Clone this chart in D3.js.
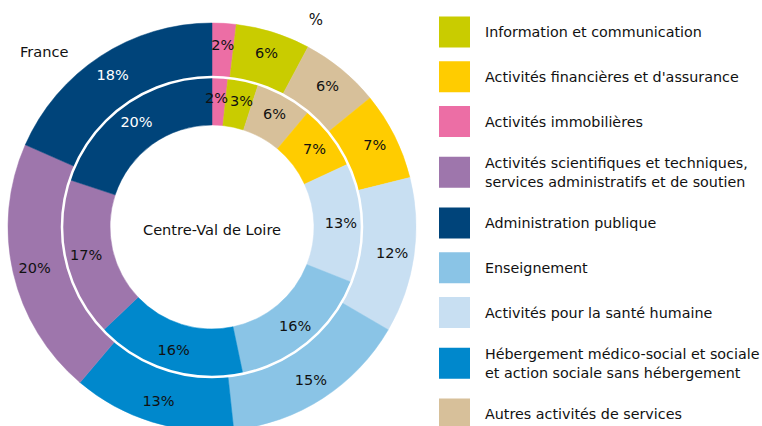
<!DOCTYPE html>
<html>
<head>
<meta charset="utf-8">
<script src="https://cdn.jsdelivr.net/npm/d3@7"></script>
<style>
  html, body { margin: 0; padding: 0; background: #fff; }
  svg { display: block; font-family: "DejaVu Sans", sans-serif; }
</style>
</head>
<body>
<svg id="chart" width="762" height="426"></svg>
<script>
// Categories in drawing order (clockwise from 12 o'clock)
const categories = [
  "Activités immobilières",
  "Information et communication",
  "Autres activités de services",
  "Activités financières et d'assurance",
  "Activités pour la santé humaine",
  "Enseignement",
  "Hébergement médico-social et sociale et action sociale sans hébergement",
  "Activités scientifiques et techniques, services administratifs et de soutien",
  "Administration publique"
];
// Shares (%) — France (outer ring)
const franceValues = [1.9, 5.9, 6.3, 7.0, 12.3, 14.9, 12.9, 20.4, 18.4];
// Shares (%) — Centre-Val de Loire (inner ring)
const cvlValues = [1.7, 3.3, 6.1, 7.0, 12.9, 15.7, 16.2, 17.2, 19.9];
const colors = ["#EC6EA5", "#C9CC00", "#D7C09A", "#FFCC00", "#C8DFF2", "#8AC4E6", "#0088CC", "#9E76AC", "#00447A"];

// Legend order and text lines
const legendOrder = [
  "Information et communication",
  "Activités financières et d'assurance",
  "Activités immobilières",
  "Activités scientifiques et techniques, services administratifs et de soutien",
  "Administration publique",
  "Enseignement",
  "Activités pour la santé humaine",
  "Hébergement médico-social et sociale et action sociale sans hébergement",
  "Autres activités de services"
];
const legendLines = [
  ["Information et communication"],
  ["Activités financières et d'assurance"],
  ["Activités immobilières"],
  ["Activités scientifiques et techniques,", "services administratifs et de soutien"],
  ["Administration publique"],
  ["Enseignement"],
  ["Activités pour la santé humaine"],
  ["Hébergement médico-social et sociale", "et action sociale sans hébergement"],
  ["Autres activités de services"]
];
const ringLabels = { outer: "France", inner: "Centre-Val de Loire", unit: "%" };

const svg = d3.select("#chart");
const cx = 212, cy = 227;
const g = svg.append("g").attr("transform", `translate(${cx},${cy})`);
const color = d3.scaleOrdinal().domain(categories).range(colors);

const pie = d3.pie().sort(null).value(d => d.value);
const mk = vals => pie(categories.map((c, i) => ({ cat: c, value: vals[i] })));

const rings = [
  { data: mk(franceValues), r0: 150, r1: 204, lr: 182 },
  { data: mk(cvlValues), r0: 102, r1: 150, lr: 129 }
];

rings.forEach(ring => {
  const arc = d3.arc().innerRadius(ring.r0).outerRadius(ring.r1);
  const larc = d3.arc().innerRadius(ring.lr).outerRadius(ring.lr);
  g.append("g").selectAll("path").data(ring.data).join("path")
    .attr("d", arc)
    .attr("fill", d => color(d.data.cat))
    .attr("stroke", d => color(d.data.cat))
    .attr("stroke-width", 0.5);
  const labels = g.append("g").selectAll("text").data(ring.data).join("text")
    .attr("text-anchor", "middle")
    .attr("dy", "0.35em")
    .attr("font-size", 14.5)
    .attr("fill", d => d.data.cat === "Administration publique" ? "#fff" : "#111")
    .text(d => Math.round(d.data.value) + "%");
  // place at centroid, then nudge apart any neighbouring labels that collide
  let prev = null;
  labels.each(function(d) {
    const [x, y] = larc.centroid(d);
    const el = d3.select(this);
    const w = this.getComputedTextLength();
    let px = x;
    if (prev && Math.abs(prev.y - y) < 14 && px - w / 2 < prev.x + prev.w / 2) {
      const overlap = prev.x + prev.w / 2 - (px - w / 2);
      prev.el.attr("x", prev.x - overlap / 2 - 1);
      prev.x -= overlap / 2 + 1;
      px += overlap / 2 + 1;
    }
    el.attr("x", px).attr("y", y);
    prev = { el, x: px, y, w };
  });
});

// white separator circle
g.append("circle").attr("r", 150).attr("fill", "none").attr("stroke", "#fff").attr("stroke-width", 2.5);

g.append("text").attr("text-anchor", "middle").attr("dy", "0.35em").attr("y", 3)
  .attr("font-size", 14.6).attr("fill", "#111").text(ringLabels.inner);
svg.append("text").attr("x", 20).attr("y", 57).attr("font-size", 14.6).attr("fill", "#111").text(ringLabels.outer);
svg.append("text").attr("x", 316).attr("y", 25).attr("text-anchor", "middle").attr("font-size", 15).attr("fill", "#111").text(ringLabels.unit);

// Legend: line-aware vertical layout
const baseGap = 44.75, extraGap = 6;
const ys = [];
legendLines.forEach((lines, i) => {
  if (i === 0) ys.push(32);
  else {
    const adj = (legendLines[i - 1].length > 1 || lines.length > 1) ? extraGap : 0;
    ys.push(ys[i - 1] + baseGap + adj);
  }
});
const leg = svg.append("g");
const items = leg.selectAll("g").data(legendOrder).join("g")
  .attr("transform", (d, i) => `translate(439,${ys[i]})`);
items.append("rect").attr("x", 0).attr("y", -15.5).attr("width", 31).attr("height", 31)
  .attr("fill", d => color(d));
items.each(function(d, i) {
  const lines = legendLines[i];
  const t = d3.select(this).append("text").attr("x", 46).attr("font-size", 14.3).attr("fill", "#111");
  const lh = 19.5;
  lines.forEach((ln, k) => {
    t.append("tspan").attr("x", 46).attr("y", (k - (lines.length - 1) / 2) * lh).attr("dy", "0.35em").text(ln);
  });
});
</script>
</body>
</html>
